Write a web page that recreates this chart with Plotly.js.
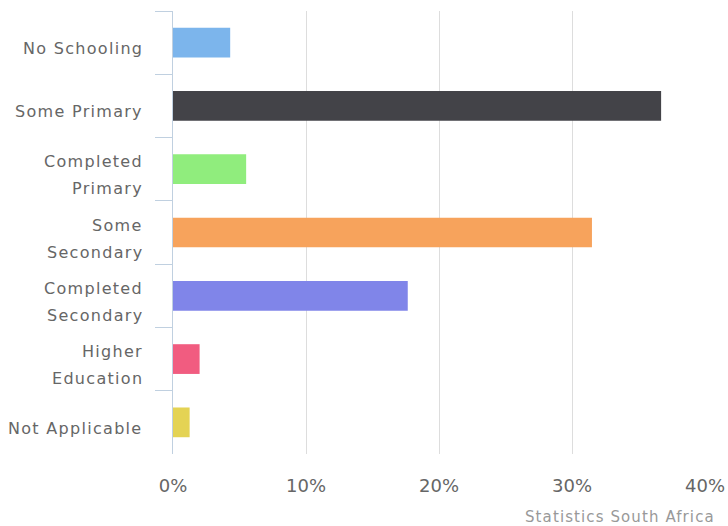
<!DOCTYPE html>
<html>
<head>
<meta charset="utf-8">
<script src="https://cdn.plot.ly/plotly-3.0.1.min.js"></script>
<style>html,body{margin:0;padding:0;background:#fff;}#chart{width:728px;height:526px;}</style>
</head>
<body>
<div id="chart"></div>
<script>
const categories = ["No Schooling", "Some Primary", "Completed\nPrimary", "Some\nSecondary", "Completed\nSecondary", "Higher\nEducation", "Not Applicable"];
const values = [4.3, 36.7, 5.5, 31.5, 17.65, 2.0, 1.25];
const colors = ["#7cb5ec", "#434348", "#90ed7d", "#f7a35c", "#8085e9", "#f15c80", "#e4d354"];
const xTickValues = [0, 10, 20, 30, 40];
const xTickLabels = ["0%", "10%", "20%", "30%", "40%"];
const credit = "Statistics South Africa";

const labelFont = {family: "DejaVu Sans", size: 16, color: "#666666"};

function spaced(t, px) {
  return '<span style="letter-spacing:' + px + 'px">' + t + '</span>';
}

const annotations = [];
categories.forEach(function (c) {
  const lines = c.split("\n");
  const n = lines.length;
  lines.forEach(function (ln, i) {
    annotations.push({
      xref: "paper", x: 0, xanchor: "right", xshift: -28,
      yref: "y", y: c, yanchor: "middle",
      yshift: -6 + ((n - 1) / 2 - i) * 27,
      text: spaced(ln, 1.3), showarrow: false, font: labelFont
    });
  });
});
annotations.push({
  xref: "paper", x: 1, xanchor: "right", xshift: 12,
  yref: "paper", y: 0, yanchor: "middle", yshift: -63,
  text: spaced(credit, 1.1), showarrow: false,
  font: {family: "DejaVu Sans", size: 15, color: "#999999"}
});

const trace = {
  type: "bar", orientation: "h",
  y: categories, x: values,
  marker: {color: colors, line: {width: 0}},
  hoverinfo: "none"
};

const layout = {
  width: 728, height: 526,
  margin: {l: 173, r: 23, t: 11, b: 72},
  paper_bgcolor: "#ffffff", plot_bgcolor: "#ffffff",
  showlegend: false,
  bargap: 0.53,
  xaxis: {
    range: [0, 40], tickvals: xTickValues, ticktext: xTickLabels,
    showgrid: true, gridcolor: "#dddddd", gridwidth: 1,
    zeroline: false, showline: false, ticks: "",
    ticklabelstandoff: 19,
    tickfont: {family: "DejaVu Sans", size: 18, color: "#666666"}
  },
  yaxis: {
    type: "category", autorange: "reversed",
    showticklabels: false, showgrid: false, zeroline: false,
    showline: true, linecolor: "#c0d0e0", linewidth: 1,
    ticks: "outside", tickson: "boundaries", ticklen: 17, tickcolor: "#c0d0e0", tickwidth: 1
  },
  annotations: annotations
};

Plotly.newPlot("chart", [trace], layout, {staticPlot: true, displayModeBar: false});
</script>
</body>
</html>
